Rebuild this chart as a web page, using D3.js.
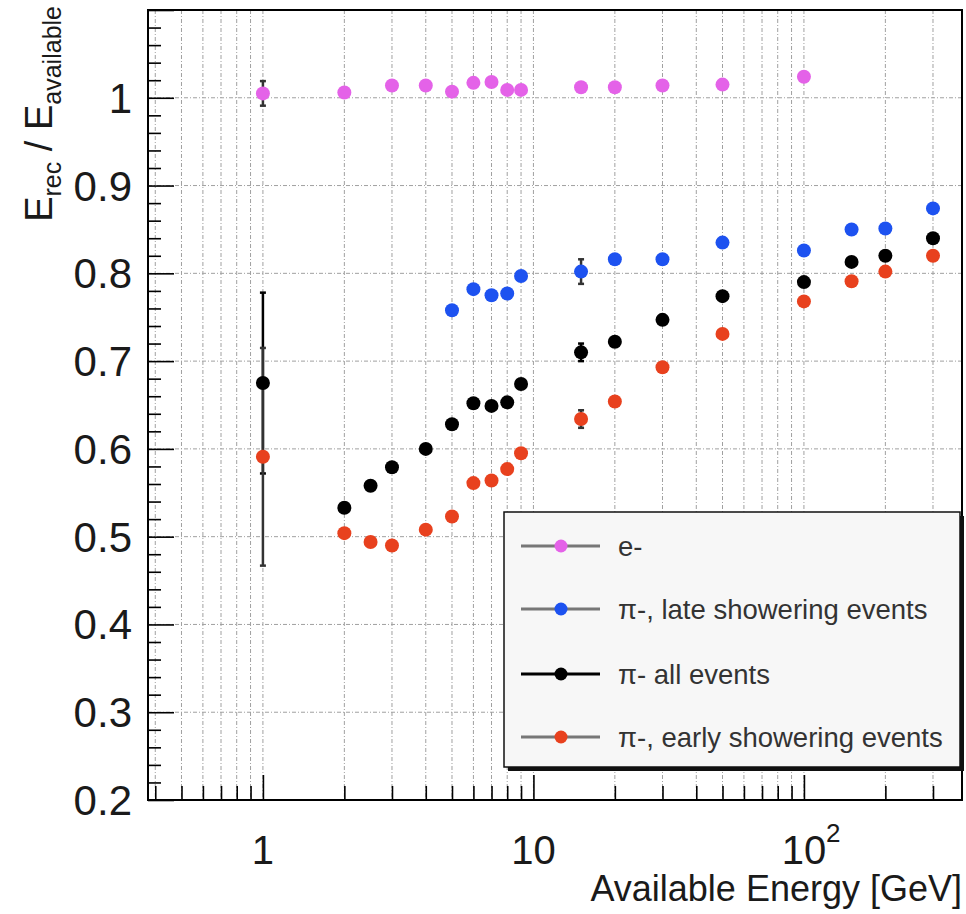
<!DOCTYPE html>
<html>
<head>
<meta charset="utf-8">
<script src="https://cdn.jsdelivr.net/npm/d3@7"></script>
<style>
    body { margin: 0; background: #fff; }
    text { font-family: 'Liberation Sans', Arial, sans-serif; }
</style>
</head>
<body>
<div id="chart"></div>
<script>
// values
let energiesE = [1, 2, 3, 4, 5, 6, 7, 8, 9, 15, 20, 30, 50, 100];
let ratioE = [1.005, 1.006, 1.014, 1.014, 1.007, 1.017, 1.018, 1.009, 1.009, 1.012, 1.012, 1.014, 1.015, 1.024];
let errE = [0.014, 0, 0, 0, 0, 0, 0, 0, 0, 0, 0, 0, 0, 0];

let energiesLate = [5, 6, 7, 8, 9, 15, 20, 30, 50, 100, 150, 200, 300];
let ratioLate = [0.758, 0.782, 0.775, 0.777, 0.797, 0.802, 0.816, 0.816, 0.835, 0.826, 0.850, 0.851, 0.874];
let errLate = [0, 0, 0, 0, 0, 0.014, 0, 0, 0, 0, 0, 0, 0];

let energiesAll = [1, 2, 2.5, 3, 4, 5, 6, 7, 8, 9, 15, 20, 30, 50, 100, 150, 200, 300];
let ratioAll = [0.675, 0.533, 0.558, 0.579, 0.600, 0.628, 0.652, 0.649, 0.653, 0.674, 0.710, 0.722, 0.747, 0.774, 0.790, 0.813, 0.820, 0.840];
let errAll = [0.103, 0, 0, 0, 0, 0, 0, 0, 0, 0, 0.010, 0, 0, 0, 0, 0, 0, 0];

let energiesEarly = [1, 2, 2.5, 3, 4, 5, 6, 7, 8, 9, 15, 20, 30, 50, 100, 150, 200, 300];
let ratioEarly = [0.591, 0.504, 0.494, 0.490, 0.508, 0.523, 0.561, 0.564, 0.577, 0.595, 0.634, 0.654, 0.693, 0.731, 0.768, 0.791, 0.802, 0.820];
let errEarly = [0.124, 0, 0, 0, 0, 0, 0, 0, 0, 0, 0.010, 0, 0, 0, 0, 0, 0, 0];

let seriesNames = ['e-', '\u03c0-, late showering events', '\u03c0- all events', '\u03c0-, early showering events'];
let seriesColors = ['#e462e8', '#1d52f0', '#000000', '#e8411e'];
let legendLineColors = ['#777777', '#777777', '#000000', '#777777'];

let yTicks = [0.2, 0.3, 0.4, 0.5, 0.6, 0.7, 0.8, 0.9, 1];

let width = 966;
let height = 914;
let margin = { top: 10, right: 4, bottom: 114, left: 148 };

let x = d3.scaleLog()
    .domain([0.376, 384])
    .range([margin.left, width - margin.right]);

let y = d3.scaleLinear()
    .domain([0.2, 1.1])
    .range([height - margin.bottom, margin.top]);

const svg = d3.select('#chart')
    .append('svg')
    .attr('width', width)
    .attr('height', height);

// log ticks: every integer multiple inside the domain
let xMinor = [];
[0.1, 1, 10, 100].forEach(dec => {
    for (let k = 1; k <= 9; k++) {
        let v = dec * k;
        if (v >= 0.376 && v <= 384) xMinor.push(v);
    }
});
let xMajor = [1, 10, 100];
let yMinor = d3.range(0.2, 1.1001, 0.02);

// grid
let grid = svg.append('g')
    .attr('stroke', '#a0a0a0')
    .attr('stroke-width', 1)
    .attr('stroke-dasharray', '4,2,1,2');

grid.selectAll('line.gx')
    .data(xMinor)
    .join('line')
    .attr('x1', d => x(d)).attr('x2', d => x(d))
    .attr('y1', y(1.1)).attr('y2', y(0.2));

grid.selectAll('line.gy')
    .data(yTicks.slice(1))
    .join('line')
    .attr('class', 'gy')
    .attr('x1', x.range()[0]).attr('x2', x.range()[1])
    .attr('y1', d => y(d)).attr('y2', d => y(d));

// frame
svg.append('rect')
    .attr('x', x.range()[0])
    .attr('y', y(1.1))
    .attr('width', x.range()[1] - x.range()[0])
    .attr('height', y(0.2) - y(1.1))
    .attr('fill', 'none')
    .attr('stroke', '#000')
    .attr('stroke-width', 2);

// x ticks (pointing up from bottom)
let xAxis = (g) => g
    .attr('transform', `translate(0,${y(0.2)})`)
    .call(d3.axisBottom(x).tickValues(xMinor).tickSize(-14).tickFormat(''))
    .call(g => g.select('.domain').remove())
    .call(g => g.selectAll('.tick line')
        .attr('stroke-width', 1.6)
        .attr('y2', d => xMajor.includes(d) ? -25 : -14));

svg.append('g').call(xAxis);

// y ticks (pointing right from left)
let yAxis = (g) => g
    .attr('transform', `translate(${x.range()[0]},0)`)
    .call(d3.axisLeft(y).tickValues(yMinor).tickSize(-13).tickFormat(''))
    .call(g => g.select('.domain').remove())
    .call(g => g.selectAll('.tick line')
        .attr('stroke-width', 1.6)
        .attr('x2', d => Math.abs(d * 10 - Math.round(d * 10)) < 1e-6 ? 26 : 13));

svg.append('g').call(yAxis);

// y tick labels
svg.append('g')
    .selectAll('text')
    .data(yTicks)
    .join('text')
    .attr('x', 132)
    .attr('y', d => y(d) + 15)
    .attr('text-anchor', 'end')
    .attr('font-size', 42)
    .attr('fill', '#1a1a1a')
    .text(d => d === 1 ? '1' : d3.format('.1f')(d));

// x tick labels
let xLabelY = 864;
svg.append('text')
    .attr('x', x(1)).attr('y', xLabelY)
    .attr('text-anchor', 'middle').attr('font-size', 40).attr('fill', '#1a1a1a')
    .text('1');
svg.append('text')
    .attr('x', x(10)).attr('y', xLabelY)
    .attr('text-anchor', 'middle').attr('font-size', 40).attr('fill', '#1a1a1a')
    .text('10');
svg.append('text')
    .attr('x', x(100)).attr('y', xLabelY)
    .attr('text-anchor', 'middle').attr('font-size', 40).attr('fill', '#1a1a1a')
    .text('10');
svg.append('text')
    .attr('x', x(100) + 22).attr('y', xLabelY - 22)
    .attr('font-size', 26).attr('fill', '#1a1a1a')
    .text('2');

// axis titles
svg.append('text')
    .attr('x', 962).attr('y', 901)
    .attr('text-anchor', 'end')
    .attr('font-size', 36)
    .attr('fill', '#1a1a1a')
    .text('Available Energy [GeV]');

let yTitle = svg.append('text')
    .attr('transform', 'translate(52,6) rotate(-90)')
    .attr('text-anchor', 'end')
    .attr('font-size', 38)
    .attr('fill', '#1a1a1a');
yTitle.append('tspan').text('E');
yTitle.append('tspan').attr('font-size', 25).attr('dy', 9).text('rec');
yTitle.append('tspan').attr('dy', -9).text(' / E');
yTitle.append('tspan').attr('font-size', 25).attr('dy', 9).text('available');

// data series
let series = [
    { xs: energiesE, ys: ratioE, es: errE },
    { xs: energiesLate, ys: ratioLate, es: errLate },
    { xs: energiesAll, ys: ratioAll, es: errAll },
    { xs: energiesEarly, ys: ratioEarly, es: errEarly }
].map((s, i) => s.xs.map((v, j) => ({ e: v, r: s.ys[j], err: s.es[j], i: i })));

// error bars
series.forEach((pts, i) => {
    let withErr = pts.filter(d => d.err > 0);
    let g = svg.append('g')
        .attr('stroke', i === 2 ? '#000' : '#333')
        .attr('stroke-width', 2.5);
    g.selectAll('line.bar')
        .data(withErr)
        .join('line')
        .attr('x1', d => x(d.e)).attr('x2', d => x(d.e))
        .attr('y1', d => y(d.r + d.err)).attr('y2', d => y(d.r - d.err));
    g.selectAll('line.capt')
        .data(withErr)
        .join('line')
        .attr('class', 'capt')
        .attr('x1', d => x(d.e) - 3).attr('x2', d => x(d.e) + 3)
        .attr('y1', d => y(d.r + d.err)).attr('y2', d => y(d.r + d.err));
    g.selectAll('line.capb')
        .data(withErr)
        .join('line')
        .attr('class', 'capb')
        .attr('x1', d => x(d.e) - 3).attr('x2', d => x(d.e) + 3)
        .attr('y1', d => y(d.r - d.err)).attr('y2', d => y(d.r - d.err));
});

// markers
series.forEach((pts, i) => {
    svg.append('g')
        .selectAll('circle')
        .data(pts)
        .join('circle')
        .attr('cx', d => x(d.e))
        .attr('cy', d => y(d.r))
        .attr('r', 7)
        .attr('fill', seriesColors[i]);
});

// legend
let lx = 504, ly = 512, lw = 456, lh = 255;
svg.append('rect')
    .attr('x', lx + 4).attr('y', ly + 4)
    .attr('width', lw).attr('height', lh)
    .attr('fill', '#111');
svg.append('rect')
    .attr('x', lx).attr('y', ly)
    .attr('width', lw).attr('height', lh)
    .attr('fill', '#f7f7f7')
    .attr('stroke', '#111')
    .attr('stroke-width', 1.5);

let rowY = [546, 609, 674, 737];
let legend = svg.append('g')
    .selectAll('g')
    .data(seriesNames)
    .join('g')
    .attr('transform', (d, i) => `translate(0,${rowY[i]})`);

legend.append('line')
    .attr('x1', 521).attr('x2', 600)
    .attr('stroke', (d, i) => legendLineColors[i])
    .attr('stroke-width', 3);
legend.append('circle')
    .attr('cx', 561)
    .attr('r', 6.5)
    .attr('fill', (d, i) => seriesColors[i]);
legend.append('text')
    .attr('x', 618)
    .attr('y', 10)
    .attr('font-size', 27.5)
    .attr('fill', '#333')
    .text(d => d);
</script>
</body>
</html>
